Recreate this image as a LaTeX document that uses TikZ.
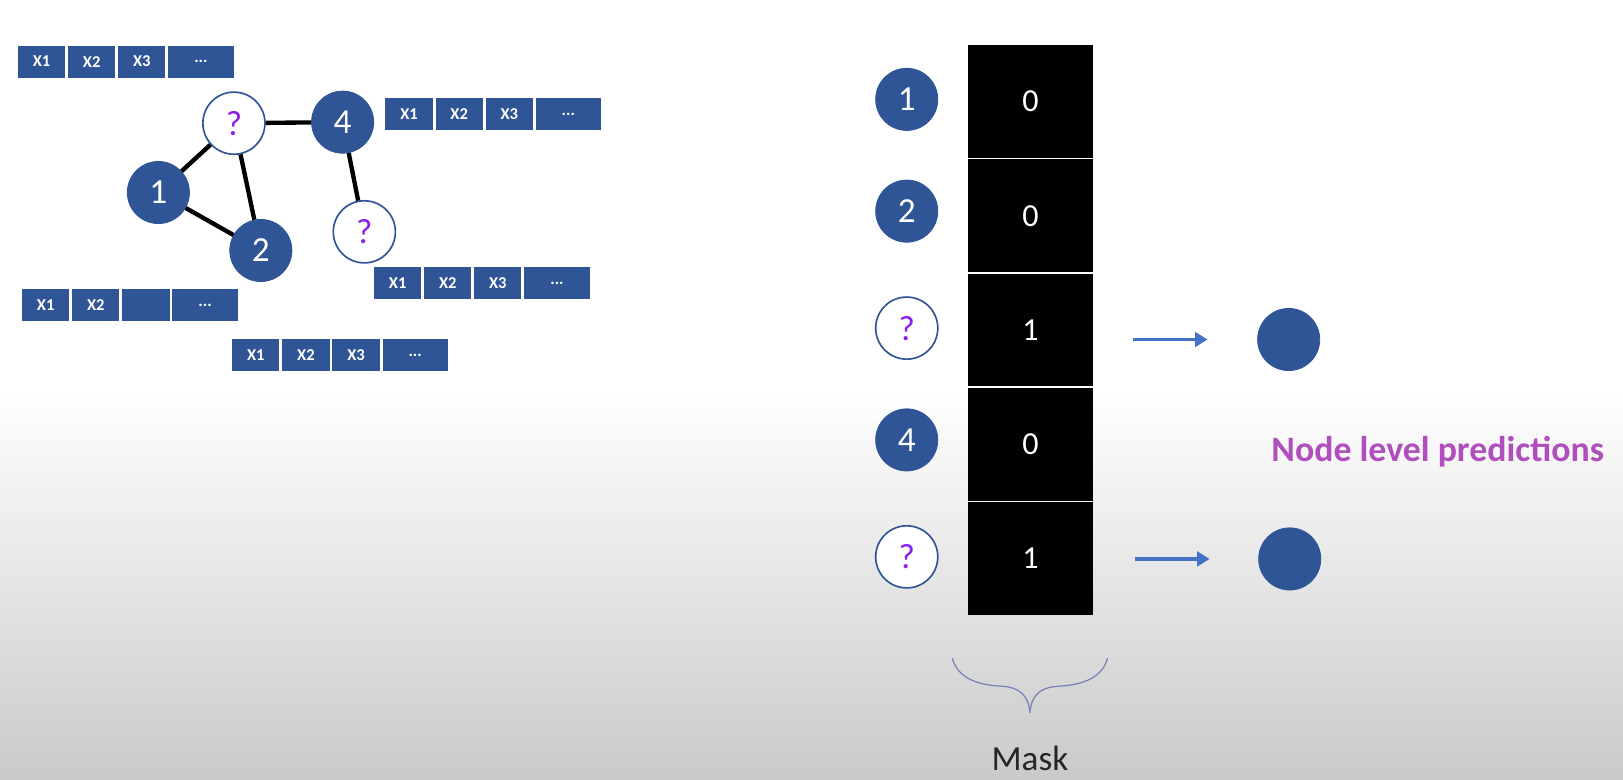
\documentclass[tikz,border=0pt]{standalone}
\usepackage{fontspec}
\setmainfont{Carlito}
\usetikzlibrary{positioning,arrows.meta}
\definecolor{nodeblue}{RGB}{47,85,151}
\definecolor{arrowblue}{RGB}{68,114,196}
\definecolor{qpurple}{RGB}{140,30,235}
\definecolor{predpink}{RGB}{176,78,190}
\definecolor{bracegray}{RGB}{120,130,185}
\tikzset{
  known/.style={circle,fill=nodeblue,draw=nodeblue,minimum size=30pt,inner sep=0pt,
    text=white,font=\fontsize{17}{17}\selectfont},
  unknown/.style={circle,fill=white,draw=nodeblue,line width=0.8pt,minimum size=30pt,
    inner sep=0pt,text=qpurple,font=\fontsize{17}{17}\selectfont},
  feat/.style={rectangle,fill=nodeblue,minimum width=22.8pt,minimum height=15.5pt,
    inner sep=0pt,text=white,font=\bfseries\fontsize{8}{8}\selectfont,anchor=west},
  maskcell/.style={rectangle,fill=black,minimum width=60.5pt,minimum height=54.5pt,
    inner sep=0pt,text=white,font=\fontsize{15.5}{15.5}\selectfont},
  graphedge/.style={line width=2.1pt,black},
  predarrow/.style={arrowblue,line width=1.6pt,-{Triangle[length=6pt,width=7pt]}}
}
% one row of features: name, x, y, four labels
\newcommand{\featrow}[7]{%
  \node[feat] (#1a) at (#2,#3) {#4};
  \node[feat,right=1pt of #1a] (#1b) {#5};
  \node[feat,right=1pt of #1b] (#1c) {#6};
  \node[feat,right=1pt of #1c,minimum width=31.5pt] (#1d) {#7};
}

\begin{document}
\begin{tikzpicture}[x=0.5pt,y=-0.5pt]
\useasboundingbox (0,0) rectangle (1568,753);
\fill[white] (0,0) rectangle (1568,753);
\shade[top color=white,bottom color=black!21] (0,380) rectangle (1568,753);

% the graph
\node[unknown] (q1) at (226,119) {?};
\node[known] (n4) at (331,118) {4};
\node[known] (n1) at (153,186) {1};
\node[known] (n2) at (252,242) {2};
\node[unknown] (q2) at (352,224) {?};
\draw[graphedge] (q1)--(n4);
\draw[graphedge] (q1)--(n1);
\draw[graphedge] (q1)--(n2);
\draw[graphedge] (n1)--(n2);
\draw[graphedge] (n4)--(q2);

% node features
\featrow{fa}{17}{59.5}{X1}{X2}{X3}{...}
\featrow{fb}{372}{110.5}{X1}{X2}{X3}{...}
\featrow{fc}{361}{273.5}{X1}{X2}{X3}{...}
\featrow{fd}{21}{295}{X1}{X2}{}{...}
\featrow{fe}{224}{343}{X1}{X2}{X3}{...}

% mask column
\node[known] (c1) at (876,96) {1};
\node[known] (c2) at (876,204) {2};
\node[unknown] (c3) at (876,317) {?};
\node[known] (c4) at (876,425) {4};
\node[unknown] (c5) at (876,538) {?};
\foreach \i/\v/\y in {1/0/98,2/0/208.4,3/1/318.8,4/0/429.2,5/1/539.6}
  \node[maskcell] (m\i) at (995.5,\y) {\v};

% predictions
\node[known] (p1) at (1245,328) {};
\node[known] (p2) at (1246,540) {};
\draw[predarrow,shorten <=19pt,shorten >=24pt] (m3.east |- p1) -- (p1.west);
\draw[predarrow,shorten <=20pt,shorten >=23.5pt] (m5.east |- p2) -- (p2.west);
\node[text=predpink,font=\bfseries\fontsize{17.3}{17.3}\selectfont] (predlabel) at (1389,436)
  {Node level predictions};

% brace under the mask
\draw[bracegray,line width=0.6pt] (920,636) .. controls (926,658) and (950,662) .. (968,663)
  .. controls (985,664) and (994,672) .. (995,689)
  .. controls (996,672) and (1005,664) .. (1022,663)
  .. controls (1040,662) and (1064,658) .. (1070,636);
\node[font=\fontsize{17}{17}\selectfont,text=black!85] (masklabel) at (995,733) {Mask};
\end{tikzpicture}
\end{document}
